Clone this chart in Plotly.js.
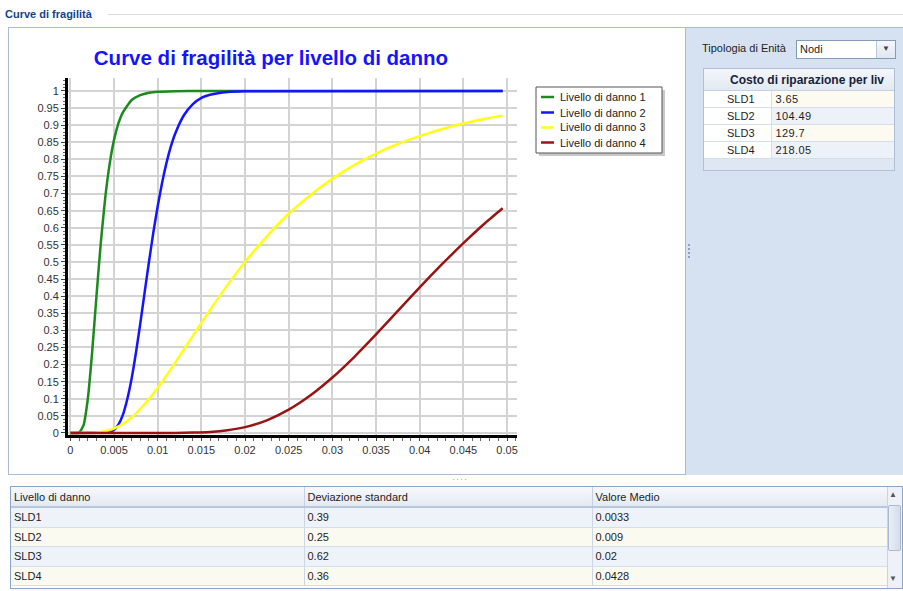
<!DOCTYPE html>
<html>
<head>
<meta charset="utf-8">
<script src="https://cdn.plot.ly/plotly-3.0.1.min.js"></script>
<style>
  html, body { margin:0; padding:0; width:903px; height:591px; overflow:hidden; background:#ffffff; font-family:"Liberation Sans", Arial, sans-serif; font-size:11px; color:#1e1e1e; }
  .abs { position:absolute; box-sizing:border-box; }
  #hdr { left:5px; top:8px; font-weight:bold; font-size:11px; color:#15428b; }
  #hdrline { left:108px; top:14px; width:795px; height:1px; background:#d5dde8; }
  #chartPanel { left:8px; top:27px; width:678px; height:448px; border:1px solid #a9bdd6; background:#fff; }
  #rightPanel { left:686px; top:27px; width:217px; height:448px; background:#d6e2f1; border-top:1px solid #a9bdd6; }
  #lblTip { left:702px; top:42px; font-size:11px; color:#1e1e1e; }
  #combo { left:796px; top:40px; width:100px; height:19px; background:#fff; border:1px solid #7f9db9; padding-left:3px; line-height:17px; }
  #comboBtn { left:876px; top:41px; width:19px; height:17px; background:linear-gradient(#f4f7fb,#dfe7f2); border-left:1px solid #b9c9dd; text-align:center; line-height:15px; font-size:8px; color:#444; }
  #costTable { left:703px; top:68px; width:192px; height:103px; border:1px solid #aebfd6; background:#dfe7f2; overflow:hidden; }
  #costTable table { border-collapse:collapse; width:191px; table-layout:fixed; }
  #costTable th { height:21px; padding:0; font-weight:bold; font-size:12px; text-align:left; padding-left:26px; white-space:nowrap; overflow:hidden; background:linear-gradient(#f4f7fb,#e2e9f3); border-bottom:1px solid #c3d1e3; color:#15233a; }
  #costTable td { height:16px; border-bottom:1px solid #d4deea; padding:0; font-size:11px; }
  #costTable td.lab { background:#fff; text-align:left; padding-left:23px; border-right:1px solid #d4deea; }
  #costTable td.val { padding-left:4px; letter-spacing:0.4px; }
  #splitDots { left:452px; top:474px; font-size:9px; color:#8aa3c4; letter-spacing:1px; }
  #vdots { left:688px; top:244px; width:2px; height:14px; border-left:2px dotted #8aa3c4; }
  #grid { left:10px; top:486px; width:893px; height:103px; border:1px solid #8ca5c6; background:#fff; overflow:hidden; }
  #grid table { border-collapse:collapse; table-layout:fixed; width:877px; }
  #grid th { height:19px; padding:0 0 0 3px; font-weight:normal; text-align:left; background:linear-gradient(#f6f8fb,#e4eaf3); border-right:1px solid #c5d2e3; border-bottom:2px solid #b7c8de; font-size:11px; }
  #grid td { height:18.6px; padding:0 0 0 3px; border-right:1px solid #cbd7e6; border-bottom:1px solid #d5dfeb; font-size:11px; }
  #grid tr.odd td { background:#eef3fa; }
  #grid tr.even td { background:#fbfaf1; }
  #scroll { left:887px; top:487px; width:15px; height:101px; background:#eef2f8; border-left:1px solid #c8d4e4; }
  #thumb { left:888px; top:505px; width:13px; height:46px; background:linear-gradient(90deg,#e9eef6,#d3deec); border:1px solid #a9bbd3; border-radius:2px; }
  #plot { position:absolute; left:0; top:0; width:903px; height:591px; pointer-events:none; }
</style>
</head>
<body>
<div class="abs" id="hdr">Curve di fragilità</div>
<div class="abs" id="hdrline"></div>
<div class="abs" id="chartPanel"></div>
<div class="abs" id="rightPanel"></div>
<div class="abs" id="vdots"></div>
<div class="abs" id="lblTip">Tipologia di Enità</div>
<div class="abs" id="combo">Nodi</div>
<div class="abs" id="comboBtn">▼</div>
<div class="abs" id="costTable"></div>
<div class="abs" id="splitDots">····</div>
<div class="abs" id="grid"></div>
<div class="abs" id="scroll"></div>
<div class="abs" id="thumb"></div>
<div class="abs" style="left:889px;top:490px;font-size:8px;color:#555;">▲</div>
<div class="abs" style="left:889px;top:574px;font-size:8px;color:#555;">▼</div>
<div id="plot"></div>
<script>
// ---- Data ----
const seriesNames = ['Livello di danno 1', 'Livello di danno 2', 'Livello di danno 3', 'Livello di danno 4'];

const xSLD1 = [0, 0.001, 0.0015, 0.002, 0.0025, 0.003, 0.0035, 0.004, 0.0045, 0.005, 0.0055, 0.006, 0.007, 0.008, 0.009, 0.01, 0.012, 0.015, 0.02, 0.0495];
const ySLD1 = [0, 0.001, 0.022, 0.100, 0.238, 0.404, 0.560, 0.689, 0.787, 0.857, 0.905, 0.937, 0.973, 0.988, 0.995, 0.998, 0.9995, 1, 1, 1];

const xSLD2 = [0, 0.004, 0.0045, 0.005, 0.0055, 0.006, 0.0065, 0.007, 0.0075, 0.008, 0.0085, 0.009, 0.0095, 0.01, 0.0105, 0.011, 0.0115, 0.012, 0.013, 0.014, 0.015, 0.016, 0.018, 0.02, 0.0495];
const ySLD2 = [0, 0.001, 0.003, 0.009, 0.024, 0.052, 0.097, 0.157, 0.233, 0.319, 0.410, 0.500, 0.586, 0.663, 0.731, 0.789, 0.837, 0.875, 0.929, 0.961, 0.980, 0.989, 0.997, 0.999, 1];

const xSLD3 = [0, 0.003, 0.004, 0.005, 0.006, 0.007, 0.008, 0.009, 0.01, 0.012, 0.014, 0.016, 0.018, 0.02, 0.0225, 0.025, 0.0275, 0.03, 0.0325, 0.035, 0.0375, 0.04, 0.0425, 0.045, 0.0475, 0.0495];
const ySLD3 = [0, 0.001, 0.005, 0.013, 0.026, 0.045, 0.070, 0.099, 0.132, 0.205, 0.283, 0.360, 0.433, 0.500, 0.575, 0.641, 0.696, 0.743, 0.783, 0.817, 0.845, 0.868, 0.888, 0.905, 0.919, 0.928];

const xSLD4 = [0, 0.01, 0.012, 0.014, 0.016, 0.018, 0.02, 0.0225, 0.025, 0.0275, 0.03, 0.0325, 0.035, 0.0375, 0.04, 0.0425, 0.045, 0.0475, 0.0495];
const ySLD4 = [0, 0, 0.0002, 0.001, 0.003, 0.008, 0.017, 0.037, 0.068, 0.110, 0.162, 0.222, 0.288, 0.357, 0.426, 0.492, 0.555, 0.614, 0.657];

const lineColors = ['#1c8a1c', '#1414ff', '#ffff14', '#991414'];

const levels = ['SLD1', 'SLD2', 'SLD3', 'SLD4'];
const stdDev = ['0.39', '0.25', '0.62', '0.36'];
const meanVal = ['0.0033', '0.009', '0.02', '0.0428'];
const repairCost = ['3.65', '104.49', '129.7', '218.05'];
const gridHeaders = ['Livello di danno', 'Deviazione standard', 'Valore Medio'];
const costHeader = 'Costo di riparazione per liv';

// ---- Tables ----
(function(){
  let h = '<table><colgroup><col style="width:67px"><col style="width:124px"></colgroup><tr><th colspan="2">' + costHeader + '</th></tr>';
  levels.forEach((l, i) => {
    h += '<tr><td class="lab">' + l + '</td><td class="val" style="background:' + (i % 2 === 0 ? '#fcfaf1' : '#edf2f9') + '">' + repairCost[i] + '</td></tr>';
  });
  h += '</table>';
  document.getElementById('costTable').innerHTML = h;

  let g = '<table><colgroup><col style="width:293px"><col style="width:288px"><col style="width:296px"></colgroup><tr>';
  gridHeaders.forEach(t => { g += '<th>' + t + '</th>'; });
  g += '</tr>';
  levels.forEach((l, i) => {
    g += '<tr class="' + (i % 2 === 0 ? 'odd' : 'even') + '"><td>' + l + '</td><td>' + stdDev[i] + '</td><td>' + meanVal[i] + '</td></tr>';
  });
  g += '</table>';
  document.getElementById('grid').innerHTML = g;
})();

// ---- Chart ----
const xs = [xSLD1, xSLD2, xSLD3, xSLD4];
const ys = [ySLD1, ySLD2, ySLD3, ySLD4];
const traces = seriesNames.map((n, i) => ({
  type: 'scatter', mode: 'lines', name: n, showlegend: false,
  x: xs[i], y: ys[i],
  line: { color: lineColors[i], width: 2.5, shape: 'spline', smoothing: 0.5 }
}));

// plot area in pixels: x 68..517, y 78..435
const W = 903, H = 591, ML = 68, MR = 386, MT = 78, MB = 156;
const PW = W - ML - MR, PH = H - MT - MB;
const px = v => (v - ML) / PW;          // pixel -> paper x
const py = v => (H - MB - v) / PH;      // pixel -> paper y

// Legend box (custom, like the reference's compact legend)
const legBox = { x0: 536, x1: 662, y0: 87, y1: 153 };
const legRowY = [97, 112.5, 127.5, 142.5];
const shapes = [
  { type: 'rect', xref: 'paper', yref: 'paper', x0: px(legBox.x0 + 3), x1: px(legBox.x1 + 3), y0: py(legBox.y1 + 3), y1: py(legBox.y0 + 3), fillcolor: '#c8c8c8', line: { width: 0 }, layer: 'above' },
  { type: 'rect', xref: 'paper', yref: 'paper', x0: px(legBox.x0), x1: px(legBox.x1), y0: py(legBox.y1), y1: py(legBox.y0), fillcolor: '#ffffff', line: { color: '#555', width: 1 }, layer: 'above' }
];
const annotations = [];
seriesNames.forEach((n, i) => {
  shapes.push({ type: 'line', xref: 'paper', yref: 'paper', x0: px(541), x1: px(554), y0: py(legRowY[i]), y1: py(legRowY[i]), line: { color: lineColors[i], width: 2.5 }, layer: 'above' });
  annotations.push({ xref: 'paper', yref: 'paper', x: px(558), y: py(legRowY[i]), xanchor: 'left', yanchor: 'middle', showarrow: false, text: n, font: { family: 'Liberation Sans, Arial, sans-serif', size: 11, color: '#222' } });
});

const tickFont = { family: 'Liberation Sans, Arial, sans-serif', size: 11, color: '#333' };
const layout = {
  width: W, height: H,
  margin: { l: ML, r: MR, t: MT, b: MB, pad: 0 },
  paper_bgcolor: 'rgba(0,0,0,0)',
  plot_bgcolor: '#ffffff',
  showlegend: false,
  title: {
    text: '<b>Curve di fragilità per livello di danno</b>',
    font: { family: 'Liberation Sans, Arial, sans-serif', size: 20.5, color: '#1414ff' },
    xref: 'paper', x: 0.452, xanchor: 'center',
    yref: 'container', y: 0.902, yanchor: 'middle'
  },
  xaxis: {
    range: [-0.00027, 0.05114],
    tick0: 0, dtick: 0.005,
    showgrid: true, gridcolor: '#d3d3d3', gridwidth: 2,
    zeroline: false,
    showline: true, linecolor: '#000', linewidth: 3,
    ticks: 'outside', ticklen: 3, tickcolor: '#444', tickwidth: 1,
    tickfont: tickFont,
    minor: { dtick: 0.001, ticks: 'outside', ticklen: 3, tickcolor: '#666', showgrid: false }
  },
  yaxis: {
    range: [-0.006, 1.038],
    tick0: 0, dtick: 0.05,
    showgrid: true, gridcolor: '#d3d3d3', gridwidth: 2,
    zeroline: false,
    showline: true, linecolor: '#000', linewidth: 3,
    ticks: 'outside', ticklen: 4, tickcolor: '#444', tickwidth: 1,
    tickfont: tickFont,
    minor: { dtick: 0.01, ticks: 'outside', ticklen: 2, tickcolor: '#666', showgrid: false }
  },
  shapes: shapes,
  annotations: annotations
};

Plotly.newPlot('plot', traces, layout, { displayModeBar: false, staticPlot: true });
</script>
</body>
</html>
